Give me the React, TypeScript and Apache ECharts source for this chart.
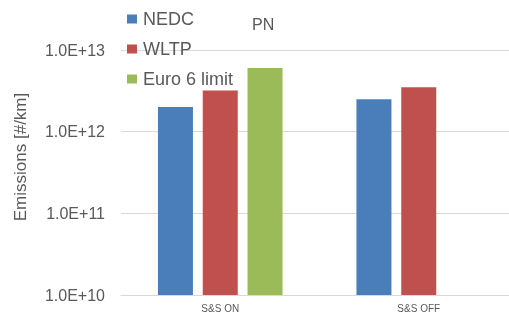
import React, { useEffect, useRef } from "react";
import * as echarts from "echarts";

const categories = ["S&S ON", "S&S OFF"];
const nedc = [2.0e12, 2.5e12];
const wltp = [3.2e12, 3.5e12];
const euro6 = [6.0e12, null];
const yTicks = ["1.0E+10", "1.0E+11", "1.0E+12", "1.0E+13"];

export default function App() {
  const ref = useRef<HTMLDivElement>(null);
  useEffect(() => {
    const chart = echarts.init(ref.current!, null, { renderer: "svg" });
    const font = "Liberation Sans, Arial, sans-serif";
    chart.setOption({
      animation: false,
      textStyle: { fontFamily: font },
      title: {
        text: "PN",
        left: 247,
        top: 11,
        textStyle: { fontSize: 16, fontWeight: "normal", color: "#595959", fontFamily: font },
      },
      legend: {
        orient: "vertical",
        left: 127,
        top: 10,
        padding: 0,
        itemWidth: 10,
        itemHeight: 9,
        itemGap: 12,
        icon: "rect",
        textStyle: { fontSize: 18, color: "#595959", fontFamily: font, padding: [0, 0, 0, 1] },
        data: ["NEDC", "WLTP", "Euro 6 limit"],
      },
      graphic: [
        {
          type: "text",
          x: 20,
          y: 157,
          rotation: Math.PI / 2,
          style: {
            text: "Emissions [#/km]",
            fontSize: 17,
            fill: "#595959",
            fontFamily: font,
            align: "center",
            verticalAlign: "middle",
          },
        },
      ],
      grid: { left: 121, top: 50, width: 397, bottom: 17 },
      xAxis: {
        type: "category",
        data: categories,
        axisTick: { show: false },
        axisLine: { lineStyle: { color: "#d9d9d9" } },
        axisLabel: { fontSize: 10, color: "#595959", margin: 8 },
      },
      yAxis: {
        type: "log",
        logBase: 10,
        min: 1e10,
        max: 1e13,
        axisLine: { show: false },
        axisTick: { show: false },
        splitLine: { lineStyle: { color: "#d9d9d9" } },
        axisLabel: {
          fontSize: 16,
          color: "#595959",
          margin: 16,
          formatter: (v: number) => yTicks[Math.round(Math.log10(v)) - 10] ?? "",
        },
      },
      series: [
        { name: "NEDC", type: "bar", data: nedc, barWidth: 35, barGap: "28%", itemStyle: { color: "#4a7ebb" } },
        { name: "WLTP", type: "bar", data: wltp, barWidth: 35, barGap: "28%", itemStyle: { color: "#c0504d" } },
        { name: "Euro 6 limit", type: "bar", data: euro6, barWidth: 35, barGap: "28%", itemStyle: { color: "#9bbb59" } },
      ],
    });
    return () => chart.dispose();
  }, []);
  return (
    <div style={{ position: "fixed", left: 0, top: 0, width: 509, height: 313, overflow: "hidden" }}>
      <div ref={ref} style={{ width: 530, height: 313 }} />
    </div>
  );
}
